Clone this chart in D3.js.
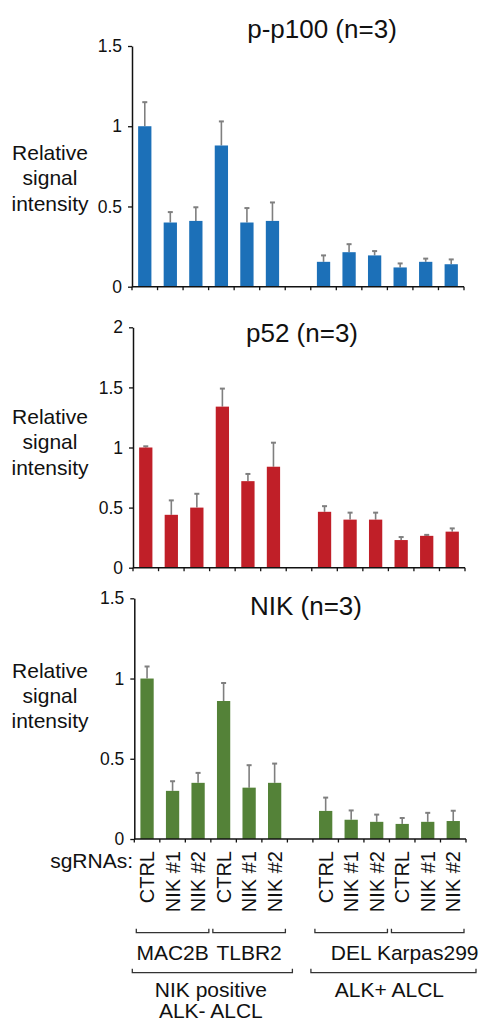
<!DOCTYPE html>
<html>
<head>
<meta charset="utf-8">
<title>NIK knockdown signal intensity</title>
<script src="https://cdn.jsdelivr.net/npm/d3@7"></script>
<style>
    body { margin: 0; background: #fff; }
    svg { display: block; font-family: "Liberation Sans", Arial, Helvetica, sans-serif; }
</style>
</head>
<body>
<svg id="chart" width="483" height="1023"></svg>
<script>
// Band ids along the x axis; "gap" is the empty slot between the two cell groups
var bandIds = ["c0", "c1", "c2", "c3", "c4", "c5", "gap", "c7", "c8", "c9", "c10", "c11", "c12"];
var sgRnaLabels = ["CTRL", "NIK #1", "NIK #2", "CTRL", "NIK #1", "NIK #2", "", "CTRL", "NIK #1", "NIK #2", "CTRL", "NIK #1", "NIK #2"];

var pp100Values = [1.0, 0.40, 0.41, 0.88, 0.40, 0.41, null, 0.155, 0.215, 0.195, 0.12, 0.155, 0.14];
var pp100Errors = [0.15, 0.065, 0.085, 0.15, 0.09, 0.115, null, 0.04, 0.05, 0.027, 0.025, 0.02, 0.03];

var p52Values = [1.0, 0.44, 0.50, 1.34, 0.72, 0.84, null, 0.465, 0.40, 0.40, 0.23, 0.265, 0.30];
var p52Errors = [0.01, 0.12, 0.115, 0.15, 0.06, 0.20, null, 0.047, 0.058, 0.058, 0.025, 0.008, 0.027];

var nikValues = [1.0, 0.30, 0.35, 0.86, 0.32, 0.35, null, 0.175, 0.12, 0.107, 0.094, 0.107, 0.112];
var nikErrors = [0.075, 0.06, 0.062, 0.112, 0.14, 0.12, null, 0.083, 0.058, 0.045, 0.037, 0.056, 0.064];

var pp100Ticks = [0, 0.5, 1, 1.5];
var p52Ticks = [0, 0.5, 1, 1.5, 2];
var nikTicks = [0, 0.5, 1, 1.5];

// Cell line brackets: [first band, last band, label]
var cellLines = [["c0", "c2", "MAC2B"], ["c3", "c5", "TLBR2"], ["c7", "c9", "DEL"], ["c10", "c12", "Karpas299"]];
// Disease group brackets: [first band, last band, label lines]
var diseaseGroups = [["c0", "c5", ["NIK positive", "ALK- ALCL"]], ["c7", "c12", ["ALK+ ALCL"]]];

var svg = d3.select("#chart");

var panels = [
    { title: "p-p100 (n=3)", values: pp100Values, errors: pp100Errors, ticks: pp100Ticks,
      color: "#1c70b8", left: 132, right: 464, top: 46, bottom: 286.7,
      titleX: 322, titleY: 38, labelY: 160 },
    { title: "p52 (n=3)", values: p52Values, errors: p52Errors, ticks: p52Ticks,
      color: "#c01f28", left: 133, right: 465, top: 327.3, bottom: 567.7,
      titleX: 302, titleY: 342, labelY: 424 },
    { title: "NIK (n=3)", values: nikValues, errors: nikErrors, ticks: nikTicks,
      color: "#548238", left: 134.3, right: 466, top: 598.3, bottom: 839,
      titleX: 306, titleY: 615, labelY: 677.5 }
];

/**
 * Draws one bar panel with its y axis, x axis ticks, error bars and title
 *
 * @param {Object} p panel description
 * @returns {d3.scaleBand} the x scale used by the panel
 */
function drawPanel(p) {
    var g = svg.append("g");

    var x = d3.scaleBand()
        .domain(bandIds)
        .range([p.left, p.right])
        .padding(0);

    var y = d3.scaleLinear()
        .domain([0, d3.max(p.ticks)])
        .range([p.bottom, p.top]);

    var barW = x.bandwidth() * 0.52;
    var rows = bandIds.map(function(id, i) {
        return { id: id, value: p.values[i], err: p.errors[i] };
    }).filter(function(d) { return d.value !== null; });

    // Error bars (upper whisker only), drawn first so bars sit on top
    var errG = g.append("g")
        .attr("stroke", "#7f7f7f")
        .attr("stroke-width", 1.6);
    errG.selectAll("line.whisker")
        .data(rows)
        .join("line")
        .attr("class", "whisker")
        .attr("x1", function(d) { return x(d.id) + x.bandwidth() / 2; })
        .attr("x2", function(d) { return x(d.id) + x.bandwidth() / 2; })
        .attr("y1", function(d) { return y(d.value); })
        .attr("y2", function(d) { return y(d.value + d.err); });
    errG.selectAll("line.cap")
        .data(rows)
        .join("line")
        .attr("class", "cap")
        .attr("stroke-width", 2)
        .attr("x1", function(d) { return x(d.id) + x.bandwidth() / 2 - 2.5; })
        .attr("x2", function(d) { return x(d.id) + x.bandwidth() / 2 + 2.5; })
        .attr("y1", function(d) { return y(d.value + d.err); })
        .attr("y2", function(d) { return y(d.value + d.err); });

    g.append("g")
        .selectAll("rect")
        .data(rows)
        .join("rect")
        .attr("x", function(d) { return x(d.id) + (x.bandwidth() - barW) / 2; })
        .attr("y", function(d) { return y(d.value); })
        .attr("width", barW)
        .attr("height", function(d) { return y(0) - y(d.value); })
        .attr("fill", p.color);

    // Y axis
    var yAxis = g.append("g")
        .attr("transform", "translate(" + p.left + ",0)")
        .call(d3.axisLeft(y)
            .tickValues(p.ticks)
            .tickFormat(function(d) { return String(d); })
            .tickSize(4)
            .tickSizeOuter(0)
            .tickPadding(6));
    yAxis.select(".domain").attr("stroke", "#111").attr("stroke-width", 1.5);
    yAxis.selectAll(".tick line").attr("stroke", "#111").attr("stroke-width", 1.3);
    yAxis.selectAll(".tick text")
        .attr("fill", "#111")
        .style("font-size", "17.5px")
        .style("font-family", "'Liberation Sans', Arial, sans-serif");

    // X axis line with ticks at every band boundary
    var xG = g.append("g").attr("stroke", "#111");
    xG.append("line")
        .attr("x1", p.left)
        .attr("x2", p.right)
        .attr("y1", y(0))
        .attr("y2", y(0))
        .attr("stroke-width", 1.5);
    var bounds = bandIds.map(function(id) { return x(id); }).concat([x.range()[1]]);
    xG.selectAll("line.xtick")
        .data(bounds)
        .join("line")
        .attr("class", "xtick")
        .attr("stroke-width", 1.3)
        .attr("x1", function(d) { return d; })
        .attr("x2", function(d) { return d; })
        .attr("y1", y(0))
        .attr("y2", y(0) + 3.5);

    // Title
    g.append("text")
        .attr("x", p.titleX)
        .attr("y", p.titleY)
        .attr("text-anchor", "middle")
        .attr("fill", "#111")
        .style("font-size", "26px")
        .text(p.title);

    // Y label, three centered lines
    g.append("text")
        .attr("text-anchor", "middle")
        .attr("fill", "#111")
        .style("font-size", "21px")
        .selectAll("tspan")
        .data(["Relative", "signal", "intensity"])
        .join("tspan")
        .attr("x", 50)
        .attr("y", function(d, i) { return p.labelY + i * 25.3; })
        .text(function(d) { return d; });

    return x;
}

var xScales = panels.map(drawPanel);
var xLast = xScales[xScales.length - 1];
var bw = xLast.bandwidth();

// sgRNA labels under the last panel
svg.append("text")
    .attr("x", 133)
    .attr("y", 868)
    .attr("text-anchor", "end")
    .attr("fill", "#111")
    .style("font-size", "21px")
    .text("sgRNAs:");

svg.append("g")
    .selectAll("text")
    .data(bandIds.map(function(id, i) { return { id: id, label: sgRnaLabels[i] }; })
        .filter(function(d) { return d.label !== ""; }))
    .join("text")
    .attr("transform", function(d) {
        return "translate(" + (xLast(d.id) + bw / 2) + ",851) rotate(-90)";
    })
    .attr("text-anchor", "end")
    .attr("dy", "0.36em")
    .attr("fill", "#111")
    .style("font-size", "20px")
    .text(function(d) { return d.label; });

/**
 * Draws a bracket with upturned ends between two x positions
 */
function bracket(x1, x2, yy) {
    svg.append("path")
        .attr("d", "M" + x1 + "," + (yy - 4) + "V" + yy + "H" + x2 + "V" + (yy - 4))
        .attr("fill", "none")
        .attr("stroke", "#333")
        .attr("stroke-width", 1.3);
}

cellLines.forEach(function(c) {
    var x1 = xLast(c[0]) + 2;
    var x2 = xLast(c[1]) + bw - 2;
    bracket(x1, x2, 932.7);
    svg.append("text")
        .attr("x", (x1 + x2) / 2)
        .attr("y", 960)
        .attr("text-anchor", "middle")
        .attr("fill", "#111")
        .style("font-size", "21px")
        .text(c[2]);
});

diseaseGroups.forEach(function(c, k) {
    var x1 = xLast(c[0]) - 2;
    var x2 = xLast(c[1]) + bw + (k === 0 ? 5 : 10);
    bracket(x1, x2, 972.7);
    var cx = (xLast(c[0]) + xLast(c[1]) + bw) / 2;
    svg.append("text")
        .attr("text-anchor", "middle")
        .attr("fill", "#111")
        .style("font-size", "21px")
        .selectAll("tspan")
        .data(c[2])
        .join("tspan")
        .attr("x", cx)
        .attr("y", function(d, i) { return 996.7 + i * 21.5; })
        .text(function(d) { return d; });
});
</script>
</body>
</html>
